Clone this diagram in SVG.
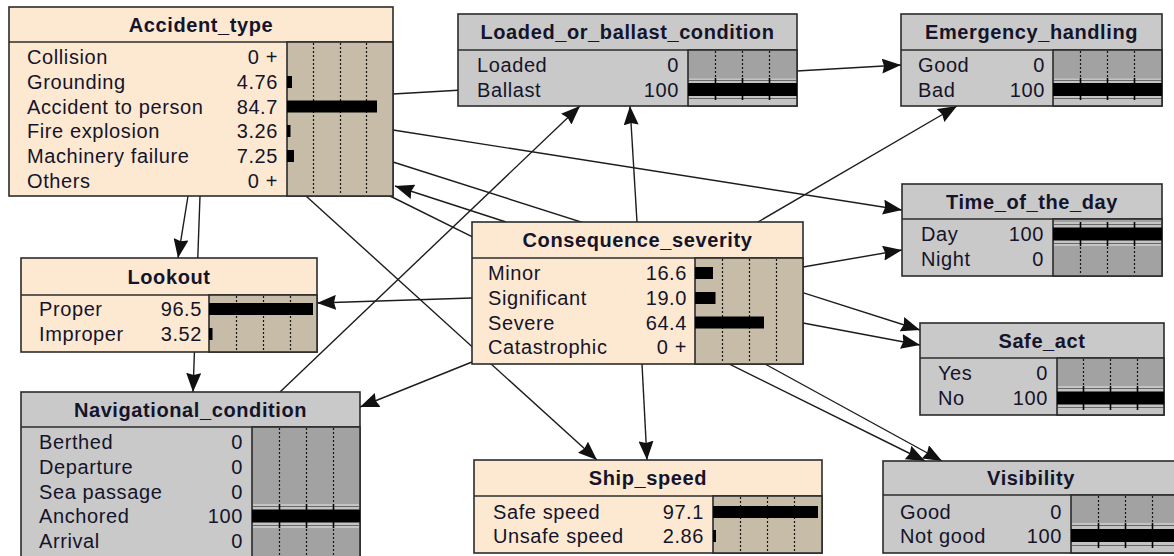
<svg xmlns="http://www.w3.org/2000/svg" width="1174" height="556" viewBox="0 0 1174 556">
  <style>
    .t { font-family: "Liberation Sans", Arial, sans-serif; font-size: 20px; fill: #14142a; letter-spacing: 0.6px; }
    .h { font-weight: bold; text-anchor: middle; }
    .v { text-anchor: end; }
    .frame { stroke: #2b2b2b; stroke-width: 1.6; }
    .peach { fill: #FDE9D2; }
    .tan { fill: #C6BCA8; }
    .gray { fill: #C9C9C9; }
    .dgray { fill: #A2A2A2; }
    .band { fill: #C4C4C4; }
    .edge { stroke: #686868; stroke-width: 1.2; }
    .dot { stroke: #151515; stroke-width: 1.2; stroke-dasharray: 2 2; }
    .tick { stroke: #000; stroke-width: 1.6; }
    .bar { fill: #000; }
    .link { stroke: #1c1c1c; stroke-width: 1.4; fill: none; marker-end: url(#head); }
  </style>
  <defs>
    <marker id="head" viewBox="0 0 19 15" refX="19" refY="7.5" markerWidth="19" markerHeight="15" markerUnits="userSpaceOnUse" orient="auto">
      <path d="M0,0 L19,7.5 L0,15 L2,7.5 Z" fill="#111"/>
    </marker>
  </defs>
  <rect width="1174" height="556" fill="#fff"/>

  <!-- links between the nodes; drawn first so the boxes cover them -->
  <g id="connectors">
    <line class="link" x1="393" y1="94" x2="901" y2="65"/>
    <line class="link" x1="393" y1="130" x2="902" y2="210"/>
    <line class="link" x1="393" y1="162" x2="920" y2="330"/>
    <line class="link" x1="390" y1="196" x2="925" y2="461"/>
    <line class="link" x1="506" y1="222" x2="395" y2="186"/>
    <line class="link" x1="188" y1="196" x2="178" y2="258"/>
    <line class="link" x1="200" y1="196" x2="193" y2="392"/>
    <line class="link" x1="306" y1="196" x2="597" y2="460"/>
    <line class="link" x1="280" y1="392" x2="580" y2="106"/>
    <line class="link" x1="637" y1="222" x2="630" y2="106"/>
    <line class="link" x1="758" y1="222" x2="957" y2="106"/>
    <line class="link" x1="803" y1="267" x2="902" y2="250"/>
    <line class="link" x1="803" y1="323" x2="920" y2="345"/>
    <line class="link" x1="765" y1="364" x2="942" y2="461"/>
    <line class="link" x1="642" y1="364" x2="647" y2="460"/>
    <line class="link" x1="472" y1="362" x2="360" y2="407"/>
    <line class="link" x1="472" y1="298" x2="317" y2="303"/>
  </g>

  <!-- Accident_type -->
  <g id="accident_type">
    <rect class="peach frame" x="9" y="7" width="384" height="189"/>
    <line class="frame" x1="9" y1="42" x2="393" y2="42"/>
    <rect class="tan frame" x="287" y="42" width="106" height="154"/>
    <line class="dot" x1="313.5" y1="43" x2="313.5" y2="195"/>
    <line class="dot" x1="340.5" y1="43" x2="340.5" y2="195"/>
    <line class="dot" x1="366.5" y1="43" x2="366.5" y2="195"/>
    <rect class="bar" x="287" y="76" width="5" height="12"/>
    <rect class="bar" x="287" y="100.5" width="90" height="12"/>
    <rect class="bar" x="287" y="125" width="3.5" height="12"/>
    <rect class="bar" x="287" y="150" width="7" height="12"/>
    <text class="t h" x="201" y="32">Accident_type</text>
    <text class="t" x="27" y="64">Collision</text>
    <text class="t" x="27" y="89">Grounding</text>
    <text class="t" x="27" y="113.5">Accident to person</text>
    <text class="t" x="27" y="138">Fire explosion</text>
    <text class="t" x="27" y="163">Machinery failure</text>
    <text class="t" x="27" y="187.5">Others</text>
    <text class="t v" x="278" y="64">0 +</text>
    <text class="t v" x="278" y="89">4.76</text>
    <text class="t v" x="278" y="113.5">84.7</text>
    <text class="t v" x="278" y="138">3.26</text>
    <text class="t v" x="278" y="163">7.25</text>
    <text class="t v" x="278" y="187.5">0 +</text>
  </g>

  <!-- Loaded_or_ballast_condition -->
  <g id="loaded_or_ballast_condition">
    <rect class="gray frame" x="458" y="14" width="339" height="92"/>
    <line class="frame" x1="458" y1="50" x2="797" y2="50"/>
    <rect class="dgray frame" x="688" y="50" width="109" height="56"/>
    <rect class="band" x="689" y="78.5" width="107" height="26.5"/>
    <line class="edge" x1="689" y1="80.5" x2="796" y2="80.5"/>
    <line class="edge" x1="689" y1="98.5" x2="796" y2="98.5"/>
    <rect class="bar" x="688" y="83" width="109" height="13"/>
    <line class="dot" x1="715.5" y1="51" x2="715.5" y2="78"/>
    <line class="dot" x1="742.5" y1="51" x2="742.5" y2="78"/>
    <line class="dot" x1="769.5" y1="51" x2="769.5" y2="78"/>
    <line class="tick" x1="715.5" y1="78" x2="715.5" y2="100"/>
    <line class="tick" x1="742.5" y1="78" x2="742.5" y2="100"/>
    <line class="tick" x1="769.5" y1="78" x2="769.5" y2="100"/>
    <text class="t h" x="627.5" y="39">Loaded_or_ballast_condition</text>
    <text class="t" x="477" y="71.5">Loaded</text>
    <text class="t" x="477" y="96.5">Ballast</text>
    <text class="t v" x="679" y="71.5">0</text>
    <text class="t v" x="679" y="96.5">100</text>
  </g>

  <!-- Emergency_handling -->
  <g id="emergency_handling">
    <rect class="gray frame" x="901" y="14" width="261" height="92"/>
    <line class="frame" x1="901" y1="50" x2="1162" y2="50"/>
    <rect class="dgray frame" x="1053" y="50" width="109" height="56"/>
    <rect class="band" x="1054" y="78.5" width="107" height="26.5"/>
    <line class="edge" x1="1054" y1="80.5" x2="1161" y2="80.5"/>
    <line class="edge" x1="1054" y1="98.5" x2="1161" y2="98.5"/>
    <rect class="bar" x="1053" y="83" width="109" height="13"/>
    <line class="dot" x1="1080.5" y1="51" x2="1080.5" y2="78"/>
    <line class="dot" x1="1107.5" y1="51" x2="1107.5" y2="78"/>
    <line class="dot" x1="1134.5" y1="51" x2="1134.5" y2="78"/>
    <line class="tick" x1="1080.5" y1="78" x2="1080.5" y2="100"/>
    <line class="tick" x1="1107.5" y1="78" x2="1107.5" y2="100"/>
    <line class="tick" x1="1134.5" y1="78" x2="1134.5" y2="100"/>
    <text class="t h" x="1031.5" y="39">Emergency_handling</text>
    <text class="t" x="918" y="71.5">Good</text>
    <text class="t" x="918" y="96.5">Bad</text>
    <text class="t v" x="1045" y="71.5">0</text>
    <text class="t v" x="1045" y="96.5">100</text>
  </g>

  <!-- Time_of_the_day -->
  <g id="time_of_the_day">
    <rect class="gray frame" x="902" y="184" width="260" height="92"/>
    <line class="frame" x1="902" y1="219" x2="1162" y2="219"/>
    <rect class="dgray frame" x="1053" y="219" width="109" height="57"/>
    <rect class="band" x="1054" y="222" width="107" height="24"/>
    <line class="edge" x1="1054" y1="224.5" x2="1161" y2="224.5"/>
    <line class="edge" x1="1054" y1="243.5" x2="1161" y2="243.5"/>
    <rect class="bar" x="1053" y="227.5" width="109" height="13"/>
    <line class="tick" x1="1080.5" y1="222" x2="1080.5" y2="246"/>
    <line class="tick" x1="1107.5" y1="222" x2="1107.5" y2="246"/>
    <line class="tick" x1="1134.5" y1="222" x2="1134.5" y2="246"/>
    <line class="dot" x1="1080.5" y1="247" x2="1080.5" y2="275"/>
    <line class="dot" x1="1107.5" y1="247" x2="1107.5" y2="275"/>
    <line class="dot" x1="1134.5" y1="247" x2="1134.5" y2="275"/>
    <text class="t h" x="1032" y="208.5">Time_of_the_day</text>
    <text class="t" x="921" y="241">Day</text>
    <text class="t" x="921" y="266">Night</text>
    <text class="t v" x="1044" y="241">100</text>
    <text class="t v" x="1044" y="266">0</text>
  </g>

  <!-- Safe_act -->
  <g id="safe_act">
    <rect class="gray frame" x="920" y="323" width="244" height="92"/>
    <line class="frame" x1="920" y1="358" x2="1164" y2="358"/>
    <rect class="dgray frame" x="1057" y="358" width="107" height="57"/>
    <rect class="band" x="1058" y="386" width="105" height="28"/>
    <line class="edge" x1="1058" y1="388.5" x2="1163" y2="388.5"/>
    <line class="edge" x1="1058" y1="407.5" x2="1163" y2="407.5"/>
    <rect class="bar" x="1057" y="391.5" width="107" height="13"/>
    <line class="dot" x1="1083.5" y1="359" x2="1083.5" y2="386"/>
    <line class="dot" x1="1110.5" y1="359" x2="1110.5" y2="386"/>
    <line class="dot" x1="1137.5" y1="359" x2="1137.5" y2="386"/>
    <line class="tick" x1="1083.5" y1="386" x2="1083.5" y2="410"/>
    <line class="tick" x1="1110.5" y1="386" x2="1110.5" y2="410"/>
    <line class="tick" x1="1137.5" y1="386" x2="1137.5" y2="410"/>
    <text class="t h" x="1042" y="347.5">Safe_act</text>
    <text class="t" x="938" y="380">Yes</text>
    <text class="t" x="938" y="405">No</text>
    <text class="t v" x="1048" y="380">0</text>
    <text class="t v" x="1048" y="405">100</text>
  </g>

  <!-- Visibility -->
  <g id="visibility">
    <rect class="gray frame" x="883" y="461" width="296" height="92"/>
    <line class="frame" x1="883" y1="495" x2="1179" y2="495"/>
    <rect class="dgray frame" x="1071" y="495" width="108" height="58"/>
    <rect class="band" x="1072" y="523" width="106" height="29"/>
    <line class="edge" x1="1072" y1="525.5" x2="1178" y2="525.5"/>
    <line class="edge" x1="1072" y1="545.5" x2="1178" y2="545.5"/>
    <rect class="bar" x="1071" y="529" width="108" height="13"/>
    <line class="dot" x1="1098.5" y1="496" x2="1098.5" y2="523"/>
    <line class="dot" x1="1125.5" y1="496" x2="1125.5" y2="523"/>
    <line class="dot" x1="1152.5" y1="496" x2="1152.5" y2="523"/>
    <line class="tick" x1="1098.5" y1="523" x2="1098.5" y2="548"/>
    <line class="tick" x1="1125.5" y1="523" x2="1125.5" y2="548"/>
    <line class="tick" x1="1152.5" y1="523" x2="1152.5" y2="548"/>
    <text class="t h" x="1031" y="485">Visibility</text>
    <text class="t" x="900" y="518.5">Good</text>
    <text class="t" x="900" y="542.5">Not good</text>
    <text class="t v" x="1062" y="518.5">0</text>
    <text class="t v" x="1062" y="542.5">100</text>
  </g>

  <!-- Ship_speed -->
  <g id="ship_speed">
    <rect class="peach frame" x="474" y="460" width="348" height="93"/>
    <line class="frame" x1="474" y1="496" x2="822" y2="496"/>
    <rect class="tan frame" x="713" y="496" width="109" height="57"/>
    <line class="dot" x1="740.5" y1="497" x2="740.5" y2="552"/>
    <line class="dot" x1="767.5" y1="497" x2="767.5" y2="552"/>
    <line class="dot" x1="794.5" y1="497" x2="794.5" y2="552"/>
    <rect class="bar" x="713" y="506" width="105" height="12"/>
    <rect class="bar" x="713" y="530" width="3" height="12"/>
    <text class="t h" x="648" y="485">Ship_speed</text>
    <text class="t" x="493" y="519">Safe speed</text>
    <text class="t" x="493" y="543">Unsafe speed</text>
    <text class="t v" x="704" y="519">97.1</text>
    <text class="t v" x="704" y="543">2.86</text>
  </g>

  <!-- Navigational_condition -->
  <g id="navigational_condition">
    <rect class="gray frame" x="21" y="392" width="339" height="172"/>
    <line class="frame" x1="21" y1="427" x2="360" y2="427"/>
    <rect class="dgray frame" x="252" y="427" width="108" height="137"/>
    <rect class="band" x="253" y="504" width="106" height="24"/>
    <line class="edge" x1="253" y1="506.5" x2="359" y2="506.5"/>
    <line class="edge" x1="253" y1="525.5" x2="359" y2="525.5"/>
    <rect class="bar" x="252" y="509.5" width="108" height="13"/>
    <line class="dot" x1="279.5" y1="428" x2="279.5" y2="504"/>
    <line class="dot" x1="306.5" y1="428" x2="306.5" y2="504"/>
    <line class="dot" x1="333.5" y1="428" x2="333.5" y2="504"/>
    <line class="tick" x1="279.5" y1="504" x2="279.5" y2="528"/>
    <line class="tick" x1="306.5" y1="504" x2="306.5" y2="528"/>
    <line class="tick" x1="333.5" y1="504" x2="333.5" y2="528"/>
    <line class="dot" x1="279.5" y1="529" x2="279.5" y2="556"/>
    <line class="dot" x1="306.5" y1="529" x2="306.5" y2="556"/>
    <line class="dot" x1="333.5" y1="529" x2="333.5" y2="556"/>
    <text class="t h" x="190.5" y="416.5">Navigational_condition</text>
    <text class="t" x="39" y="449">Berthed</text>
    <text class="t" x="39" y="474">Departure</text>
    <text class="t" x="39" y="498.5">Sea passage</text>
    <text class="t" x="39" y="523">Anchored</text>
    <text class="t" x="39" y="548">Arrival</text>
    <text class="t v" x="243" y="449">0</text>
    <text class="t v" x="243" y="474">0</text>
    <text class="t v" x="243" y="498.5">0</text>
    <text class="t v" x="243" y="523">100</text>
    <text class="t v" x="243" y="548">0</text>
  </g>

  <!-- Lookout -->
  <g id="lookout">
    <rect class="peach frame" x="21" y="258" width="296" height="94"/>
    <line class="frame" x1="21" y1="295" x2="317" y2="295"/>
    <rect class="tan frame" x="209" y="295" width="108" height="57"/>
    <line class="dot" x1="236.5" y1="296" x2="236.5" y2="351"/>
    <line class="dot" x1="263.5" y1="296" x2="263.5" y2="351"/>
    <line class="dot" x1="290.5" y1="296" x2="290.5" y2="351"/>
    <rect class="bar" x="209" y="303" width="104" height="12"/>
    <rect class="bar" x="209" y="328" width="3.5" height="12"/>
    <text class="t h" x="169" y="283.5">Lookout</text>
    <text class="t" x="39" y="316">Proper</text>
    <text class="t" x="39" y="341">Improper</text>
    <text class="t v" x="202" y="316">96.5</text>
    <text class="t v" x="202" y="341">3.52</text>
  </g>

  <!-- Consequence_severity -->
  <g id="consequence_severity">
    <rect class="peach frame" x="472" y="222" width="331" height="142"/>
    <line class="frame" x1="472" y1="258" x2="803" y2="258"/>
    <rect class="tan frame" x="695" y="258" width="108" height="106"/>
    <line class="dot" x1="722.5" y1="259" x2="722.5" y2="363"/>
    <line class="dot" x1="749.5" y1="259" x2="749.5" y2="363"/>
    <line class="dot" x1="776.5" y1="259" x2="776.5" y2="363"/>
    <rect class="bar" x="695" y="267" width="18" height="12"/>
    <rect class="bar" x="695" y="292" width="20.5" height="12"/>
    <rect class="bar" x="695" y="316.5" width="69" height="12"/>
    <text class="t h" x="637.5" y="247">Consequence_severity</text>
    <text class="t" x="488" y="280">Minor</text>
    <text class="t" x="488" y="305">Significant</text>
    <text class="t" x="488" y="329.5">Severe</text>
    <text class="t" x="488" y="354">Catastrophic</text>
    <text class="t v" x="687" y="280">16.6</text>
    <text class="t v" x="687" y="305">19.0</text>
    <text class="t v" x="687" y="329.5">64.4</text>
    <text class="t v" x="687" y="354">0 +</text>
  </g>
</svg>
